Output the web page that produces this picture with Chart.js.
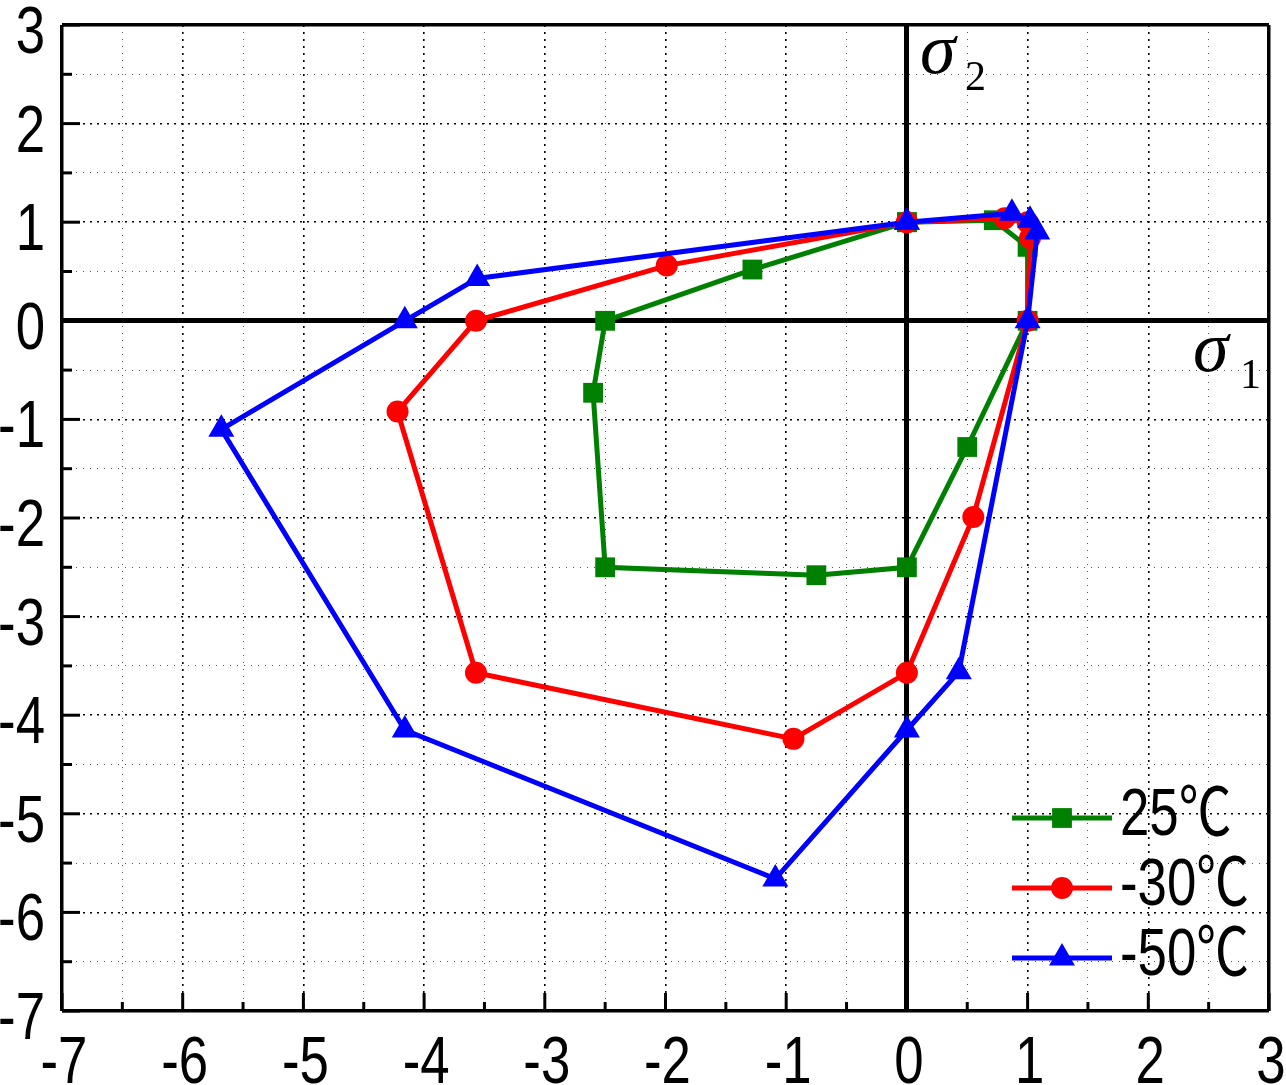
<!DOCTYPE html>
<html>
<head>
<meta charset="utf-8">
<script src="https://cdn.jsdelivr.net/npm/chart.js"></script>
<style>
  html, body { margin: 0; padding: 0; background: #fff; }
  #wrap { width: 1286px; height: 1085px; }
</style>
</head>
<body>
<div id="wrap"><canvas id="chart" width="1286" height="1085"></canvas></div>
<script>
// tick labels
const xTicks = [-7, -6, -5, -4, -3, -2, -1, 0, 1, 2, 3];
const yTicks = [-7, -6, -5, -4, -3, -2, -1, 0, 1, 2, 3];

// series (closed polygons, first point repeated at the end)
const seriesNames = ['25℃', '-30℃', '-50℃'];
const x25 = [0, 0.72, 1.0, 1.0, 0.5, 0, -0.75, -2.5, -2.6, -2.5, -1.28, 0];
const y25 = [1, 1.02, 0.75, 0, -1.28, -2.5, -2.58, -2.5, -0.73, 0, 0.52, 1];
const xm30 = [0, 0.81, 1.0, 1.02, 1.0, 0.55, 0, -0.94, -3.57, -4.22, -3.57, -1.99, 0];
const ym30 = [1, 1.04, 1.0, 0.84, 0, -1.99, -3.57, -4.24, -3.57, -0.92, 0, 0.56, 1];
const xm50 = [0, 0.87, 1.02, 1.08, 1.0, 0.43, 0, -1.09, -4.16, -5.68, -4.16, -3.56, 0];
const ym50 = [1, 1.09, 1.02, 0.9, 0, -3.56, -4.15, -5.66, -4.15, -1.1, 0, 0.43, 1];

const colors = ['#008000', '#ff0000', '#0000ff'];
const shapes = ['rect', 'circle', 'triangle'];
const radii = [14, 11, 15];

// Arial Narrow look-alike: Liberation Sans squeezed horizontally
const labelFont = '66px "Liberation Sans", Arial, "Noto Sans CJK SC", sans-serif';
const narrow = 0.8;

function toPoints(xs, ys) {
    return xs.map((v, i) => ({ x: v, y: ys[i] }));
}

function isWhole(v) {
    return Math.abs(v - Math.round(v)) < 1e-6;
}

function isEdgeOrZero(v) {
    return Math.abs(v) < 1e-6 || Math.abs(v + 7) < 1e-6 || Math.abs(v - 3) < 1e-6;
}

function gridColor(ctx) {
    return isWhole(ctx.tick.value) ? '#000' : '#555';
}

function gridWidth(ctx) {
    const v = ctx.tick.value;
    if (Math.abs(v) < 1e-6) return 5;
    if (isEdgeOrZero(v)) return 3.5;
    return isWhole(v) ? 1.6 : 1;
}

function gridDash(ctx) {
    if (!ctx.tick) return [];
    const v = ctx.tick.value;
    if (isEdgeOrZero(v)) return [];
    return isWhole(v) ? [2, 5] : [1, 6];
}

function narrowText(ctx, text, x, y, align) {
    ctx.save();
    ctx.translate(x, y);
    ctx.scale(narrow, 1);
    ctx.textAlign = align;
    ctx.fillText(text, 0, 0);
    ctx.restore();
}

function drawMarker(ctx, shape, x, y, r, color) {
    ctx.fillStyle = color;
    ctx.beginPath();
    if (shape === 'rect') {
        const s = Math.SQRT1_2 * r;
        ctx.rect(x - s, y - s, 2 * s, 2 * s);
    } else if (shape === 'circle') {
        ctx.arc(x, y, r, 0, Math.PI * 2);
    } else {
        ctx.moveTo(x, y - r);
        ctx.lineTo(x + r * 0.866, y + r / 2);
        ctx.lineTo(x - r * 0.866, y + r / 2);
        ctx.closePath();
    }
    ctx.fill();
}

const innerTicks = {
    id: 'innerTicks',
    beforeDatasetsDraw(chart) {
        const { ctx, chartArea: a, scales: { x, y } } = chart;
        ctx.save();
        ctx.strokeStyle = '#000';
        ctx.lineWidth = 3;
        x.ticks.forEach(t => {
            const px = x.getPixelForValue(t.value);
            const len = isWhole(t.value) ? 18 : 9;
            ctx.beginPath();
            ctx.moveTo(px, a.bottom);
            ctx.lineTo(px, a.bottom - len);
            ctx.stroke();
        });
        y.ticks.forEach(t => {
            const py = y.getPixelForValue(t.value);
            const len = isWhole(t.value) ? 18 : 10;
            ctx.beginPath();
            ctx.moveTo(a.left, py);
            ctx.lineTo(a.left + len, py);
            ctx.stroke();
        });
        ctx.restore();
    }
};

const labelsAndLegend = {
    id: 'labelsAndLegend',
    afterDraw(chart) {
        const { ctx, chartArea: a, scales: { x, y } } = chart;
        ctx.save();
        ctx.fillStyle = '#000';
        ctx.textBaseline = 'alphabetic';

        // tick labels
        ctx.font = labelFont;
        xTicks.forEach(v => {
            narrowText(ctx, String(v), x.getPixelForValue(v) + 2, a.bottom + 72, 'center');
        });
        yTicks.forEach(v => {
            narrowText(ctx, String(v), a.left - 17, y.getPixelForValue(v) + 28, 'right');
        });

        // sigma axis names
        const x0 = x.getPixelForValue(0);
        const y0 = y.getPixelForValue(0);
        ctx.textAlign = 'left';
        ctx.font = 'italic 72px "Liberation Serif", "DejaVu Serif", serif';
        ctx.fillText('σ', x0 + 13, a.top + 48);
        ctx.fillText('σ', a.right - 76, y0 + 50);
        ctx.font = '42px "Liberation Serif", "DejaVu Serif", serif';
        ctx.fillText('2', x0 + 58, a.top + 65);
        ctx.fillText('1', a.right - 29, y0 + 67);

        // legend
        const lx1 = a.right - 257, lx2 = a.right - 157;
        const lys = [a.bottom - 193, a.bottom - 123, a.bottom - 53];
        seriesNames.forEach((name, i) => {
            const ly = lys[i];
            ctx.strokeStyle = colors[i];
            ctx.lineWidth = 5;
            ctx.beginPath();
            ctx.moveTo(lx1, ly);
            ctx.lineTo(lx2, ly);
            ctx.stroke();
            drawMarker(ctx, shapes[i], (lx1 + lx2) / 2, ly, radii[i], colors[i]);
            ctx.fillStyle = '#000';
            ctx.font = labelFont;
            narrowText(ctx, name, a.right - 149, ly + 17, 'left');
        });
        ctx.restore();
    }
};

const ctx = document.getElementById('chart').getContext('2d');
new Chart(ctx, {
    type: 'scatter',
    data: {
        datasets: [
            { label: seriesNames[0], data: toPoints(x25, y25), order: 3 },
            { label: seriesNames[1], data: toPoints(xm30, ym30), order: 2 },
            { label: seriesNames[2], data: toPoints(xm50, ym50), order: 1 }
        ].map((d, i) => Object.assign(d, {
            showLine: true,
            borderColor: colors[i],
            backgroundColor: colors[i],
            borderWidth: 5,
            pointStyle: shapes[i],
            pointRadius: radii[i],
            pointHoverRadius: radii[i],
            pointBorderWidth: 0,
            pointBackgroundColor: colors[i],
            tension: 0
        }))
    },
    options: {
        responsive: false,
        animation: false,
        devicePixelRatio: 1,
        layout: { padding: { top: 25, right: 17, left: 0, bottom: 0 } },
        plugins: {
            legend: { display: false },
            tooltip: { enabled: false }
        },
        scales: {
            x: {
                type: 'linear',
                min: xTicks[0],
                max: xTicks[xTicks.length - 1],
                ticks: { stepSize: 0.5, autoSkip: false, display: false },
                grid: { color: gridColor, lineWidth: gridWidth, drawTicks: false },
                border: { display: false, dash: gridDash },
                afterFit: s => { s.height = 74; s.paddingLeft = 0; s.paddingRight = 0; }
            },
            y: {
                type: 'linear',
                min: yTicks[0],
                max: yTicks[yTicks.length - 1],
                ticks: { stepSize: 0.5, autoSkip: false, display: false },
                grid: { color: gridColor, lineWidth: gridWidth, drawTicks: false },
                border: { display: false, dash: gridDash },
                afterFit: s => { s.width = 62; s.paddingTop = 0; s.paddingBottom = 0; }
            }
        }
    },
    plugins: [innerTicks, labelsAndLegend]
});
</script>
</body>
</html>
